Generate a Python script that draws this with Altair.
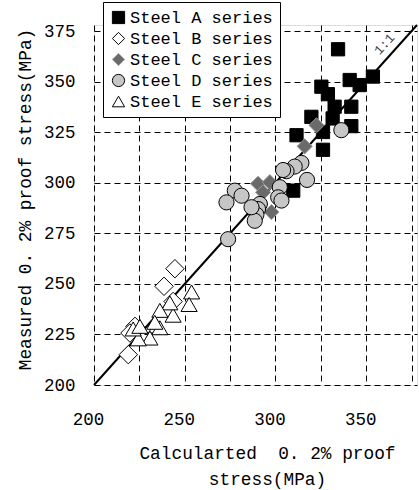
import altair as alt
import pandas as pd

# Calculated vs. measured 0.2% proof stress (MPa) for five steel series
a_calc = [334.5, 353.7, 340.9, 346.4, 325.3, 328.9, 332.6, 341.8, 319.8, 341.8, 331.5, 311.6, 326.2, 326.2, 309.8]
a_meas = [366.0, 352.5, 350.8, 348.3, 347.5, 343.8, 337.6, 337.6, 332.6, 328.0, 331.8, 323.5, 325.1, 316.3, 296.1]

b_calc = [244.6, 238.6, 243.6, 222.6, 219.8, 218.9]
b_meas = [257.5, 248.8, 241.3, 229.0, 225.7, 215.0]

c_calc = [322.6, 316.1, 290.4, 296.9, 293.2, 297.8]
c_meas = [328.4, 318.0, 299.5, 300.3, 295.3, 285.5]

d_calc = [336.3, 314.3, 310.6, 306.1, 317.4, 302.4, 301.5, 303.3, 291.4, 290.4,
          289.5, 288.6, 286.8, 277.6, 281.3, 273.0, 273.9, 304.2]
d_meas = [326.0, 309.8, 308.0, 305.7, 301.4, 297.8, 292.8, 291.2, 289.5, 287.0,
          284.2, 281.2, 287.9, 296.1, 293.6, 290.3, 272.1, 306.3]

e_calc = [253.8, 252.4, 243.6, 241.8, 236.3, 234.5, 236.3, 230.8, 224.4, 221.6, 225.3, 233.5]
e_meas = [246.0, 239.8, 234.5, 240.6, 236.9, 229.2, 228.3, 223.2, 222.8, 227.7, 229.0, 231.0]

series_names = ["Steel A series", "Steel B series", "Steel C series",
                "Steel D series", "Steel E series"]
series_shapes = ["square", "diamond", "diamond", "circle", "triangle-up"]
series_fills = ["black", "white", "#6a6a6a", "#c6c6c6", "white"]
series_strokes = ["black", "black", "#9a9a9a", "black", "black"]
series_sizes = [175, 340, 230, 230, 260]

axis_ticks = [200, 225, 250, 275, 300, 325, 350, 375]
axis_range = [200, 378]

FONT = "Liberation Mono"
NBSP = "\u00a0"

rows = []
for name, xs, ys in zip(series_names,
                        [a_calc, b_calc, c_calc, d_calc, e_calc],
                        [a_meas, b_meas, c_meas, d_meas, e_meas]):
    for xv, yv in zip(xs, ys):
        rows.append({"series": name, "calc": xv, "meas": yv})
df = pd.DataFrame(rows)

ref_df = pd.DataFrame({"calc": axis_range, "meas": axis_range})
label_df = pd.DataFrame({"calc": [360.0], "meas": [368.5], "text": ["1:1"]})

x_scale = alt.Scale(domain=axis_range, nice=False, zero=False)
y_scale = alt.Scale(domain=axis_range, nice=False, zero=False)

x_axis = alt.Axis(
    values=axis_ticks,
    labelExpr="datum.value % 50 == 0 ? datum.label : ''",
    labelFlush=False, labelOffset=-6,
    title=["Calcularted" + NBSP + NBSP + "0." + NBSP + "2% proof", "stress(MPa)"],
    titleX=173, titleY=73, titleAlign="center", titleBaseline="alphabetic",
    titleLineHeight=26, titleFontWeight="normal", titleFontSize=17.8, titleFont=FONT,
    labelFont=FONT, labelFontSize=17.5, labelPadding=25,
    labelColor="black", titleColor="black",
    ticks=False, domain=False,
    grid=True, gridColor="black", gridDash=[6, 4], gridWidth=1, gridOpacity=1,
)
y_axis = alt.Axis(
    values=axis_ticks,
    labelFlush=False,
    title="Measured 0." + NBSP + "2% proof stress(MPa)",
    titleX=-69, titleY=174, titleAlign="center", titleBaseline="middle", titleAngle=270,
    titleFontWeight="normal", titleFontSize=17.8, titleFont=FONT,
    labelFont=FONT, labelFontSize=17.5, labelPadding=19,
    labelColor="black", titleColor="black",
    ticks=False, domain=False,
    grid=True, gridColor="black", gridDash=[6, 4], gridWidth=1, gridOpacity=1,
)

legend = alt.Legend(
    title=None, orient="none", legendX=9, legendY=-23,
    fillColor="white", strokeColor="black", padding=7,
    labelFont=FONT, labelFontSize=17, labelColor="black", labelOffset=3,
    symbolSize=150, symbolStrokeWidth=1, rowPadding=3,
)

shape_enc = alt.Shape("series:N", legend=legend,
                      scale=alt.Scale(domain=series_names, range=series_shapes))
fill_enc = alt.Fill("series:N", legend=legend,
                    scale=alt.Scale(domain=series_names, range=series_fills))
stroke_enc = alt.Stroke("series:N", legend=legend,
                        scale=alt.Scale(domain=series_names, range=series_strokes))

ref_line = alt.Chart(ref_df).mark_line(color="black", strokeWidth=2).encode(
    x=alt.X("calc:Q", scale=x_scale, axis=x_axis),
    y=alt.Y("meas:Q", scale=y_scale, axis=y_axis),
)

# one layer per series, drawn A -> E so later series sit on top
series_layers = []
for name, size in zip(series_names, series_sizes):
    layer = alt.Chart(df).transform_filter(
        alt.datum.series == name
    ).mark_point(filled=True, opacity=1, strokeWidth=1, size=size).encode(
        x=alt.X("calc:Q", scale=x_scale),
        y=alt.Y("meas:Q", scale=y_scale),
        shape=shape_enc,
        fill=fill_enc,
        stroke=stroke_enc,
    )
    series_layers.append(layer)

ratio_label = alt.Chart(label_df).mark_text(
    angle=312, fontSize=13, font=FONT, color="#444444"
).encode(
    x=alt.X("calc:Q", scale=x_scale),
    y=alt.Y("meas:Q", scale=y_scale),
    text="text:N",
)

chart = alt.layer(ref_line, *series_layers, ratio_label).properties(
    width=323, height=360,
    autosize=alt.AutoSizeParams(type="none"),
    padding={"left": 94, "top": 25, "right": 2, "bottom": 105},
).configure_view(
    stroke="black", strokeWidth=3
).configure(background="white")

chart.save("out.html", embed_options={"renderer": "svg", "actions": False})
